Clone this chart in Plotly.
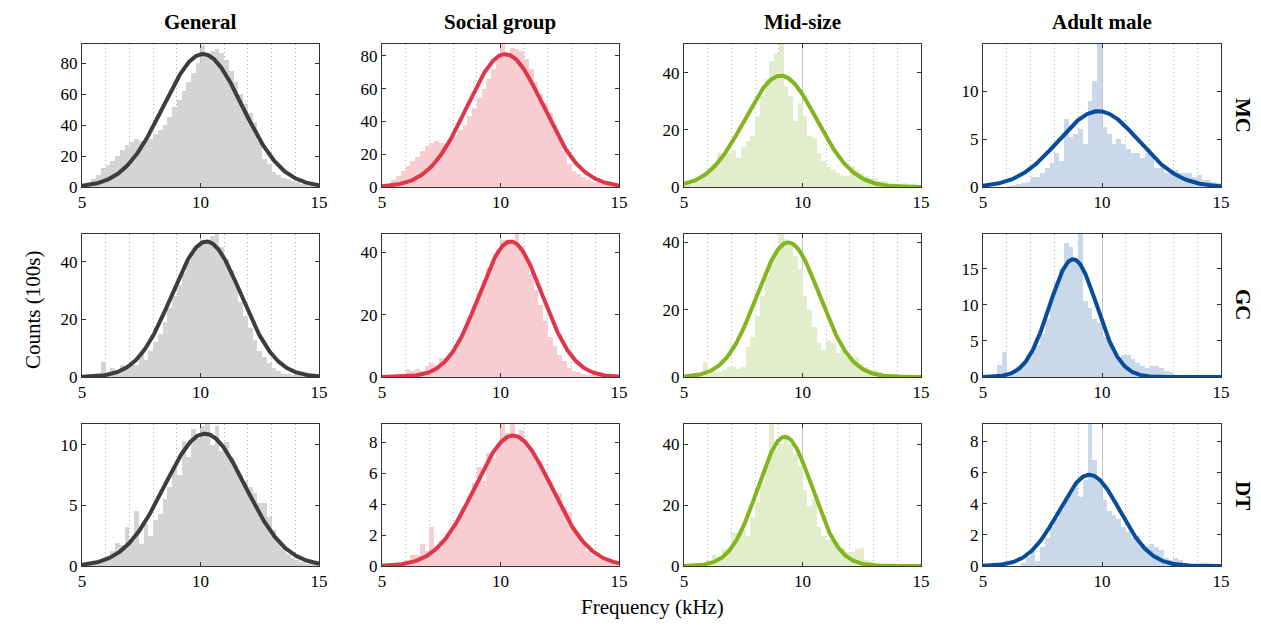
import numpy as np
import plotly.graph_objects as go

W, H = 1261, 626

groups = ["General", "Social group", "Mid-size", "Adult male"]
conditions = ["MC", "GC", "DT"]
bin_left_edges = [round(5.0 + 0.2 * i, 1) for i in range(50)]
bin_width = 0.2

# Histogram counts (100s) per panel; rows = MC, GC, DT
general_mc = [1, 3, 5, 8, 12, 14, 17, 20, 24, 27, 29, 31, 30, 30, 31, 34, 37, 40, 45, 52,
              56, 62, 68, 74, 80, 92, 86, 88, 89, 87, 82, 75, 68, 60, 54, 48, 42, 30, 18, 15,
              10, 8, 6, 5, 4, 3, 2, 2, 1, 1]
social_mc = [1, 2, 4, 7, 10, 13, 16, 18, 22, 25, 27, 28, 27, 26, 28, 32, 35, 38, 43, 48,
             54, 60, 66, 72, 78, 87, 80, 85, 84, 83, 78, 72, 64, 57, 51, 45, 38, 30, 22, 14,
             10, 8, 6, 4, 3, 3, 2, 1, 1, 1]
mid_mc = [0.5, 1, 2, 3, 4, 6, 8.5, 12, 12, 12, 13, 10, 14, 16, 18, 25, 32, 38, 44, 47,
          50, 35, 32, 23, 29.5, 25, 18, 17, 12, 9, 7, 6, 5, 4, 4, 7.5, 6, 5, 4, 3,
          3, 2, 2, 1.5, 1, 1, 1.5, 1, 1, 0.5]
adult_mc = [0, 0, 0, 0, 0, 0.1, 0.2, 0.3, 0.4, 0.5, 1, 1, 1.5, 2, 2.5, 3.5, 2.7, 7.1, 5.2, 5.5,
            6.0, 4.5, 9, 11, 14.9, 6.3, 5.5, 4.5, 5, 4.5, 4, 3.5, 3.5, 3, 3.5, 3.5, 2, 2, 1.5, 1.5,
            1.8, 1.5, 1.5, 1.5, 1, 1.3, 0.7, 0.7, 0.5, 0.4]
general_gc = [0, 0, 0.5, 1, 5.2, 1, 3, 2, 4, 3, 5, 4, 8, 6, 9, 12, 15, 19, 24, 28,
              32, 36, 40, 43, 45, 47, 46, 49, 49.6, 45, 41, 37, 32, 26, 21, 17, 13, 9, 7, 5,
              3, 2, 1, 1, 0.5, 0.5, 0.3, 0.2, 0.1, 0]
social_gc = [0, 0, 0, 0, 0.5, 2.5, 2, 2.5, 2, 3.5, 4.5, 4, 6, 5.5, 7, 9, 12, 15, 19, 23,
             27, 31, 35, 38, 41, 44, 44, 43, 45.9, 42, 38, 33, 28, 23, 18, 13, 10, 7, 5, 3,
             2, 1.5, 1, 0.7, 0.5, 0.3, 0.2, 0.1, 0, 0]
mid_gc = [0, 0, 0.3, 1, 4.5, 1, 1.5, 1.5, 2, 3, 3, 2.5, 3, 9, 12, 18, 24, 30, 35, 37,
          42.5, 41, 40, 36, 32, 24, 20, 15, 10, 8, 11, 10, 7, 8, 6, 5, 6, 4, 3, 2,
          2, 1.5, 0.5, 0.3, 0, 0, 0, 0, 0, 0]
adult_gc = [0, 0, 0, 1.6, 3.4, 0.5, 1, 1.5, 2, 3, 3.5, 4.5, 6, 8, 11, 13, 15, 18.6, 18, 16,
            19.8, 10.5, 9.5, 8, 7.5, 5.5, 5, 3.5, 2.5, 3, 3, 2.5, 2, 1.5, 1.2, 1.5, 1.5, 1.2, 0.8, 0.7,
            0.3, 0.2, 0, 0, 0, 0, 0, 0, 0, 0]
general_dt = [0.1, 0.1, 0.2, 0.3, 0.5, 0.8, 1.2, 1.9, 1.7, 3.2, 2.2, 4.5, 1.8, 3.5, 2.5, 3.8, 4.3, 5.5, 6.5, 8.2,
              7.5, 10.3, 9, 11.3, 10.5, 11.5, 11.7, 10, 11.5, 9.5, 10.2, 9, 8, 7.5, 7, 6.5, 6, 5.2, 5.2, 4,
              3, 2.2, 1.5, 1, 0.7, 0.5, 0.3, 0.2, 0.1, 0.1]
social_dt = [0, 0, 0, 0, 0.1, 0.3, 0.7, 0.7, 1.4, 1.0, 2.5, 1.3, 1.6, 1.8, 2.2, 2.8, 3.3, 3.8, 4.5, 5.4,
             6.4, 5.5, 7.3, 7, 7.8, 9.2, 8.6, 9.2, 8.5, 8.8, 8, 7.5, 7, 6.8, 6, 5.5, 4.8, 4.7, 3.8, 3.5,
             2.5, 2, 1.5, 1, 0.7, 0.5, 0.4, 0.3, 0.2, 0.2]
mid_dt = [0, 0, 0.3, 0.5, 1, 1.5, 3.5, 3, 5.5, 6, 11, 11, 12, 10, 16, 21, 28, 33, 46.7, 38,
          40, 42, 40, 36.8, 33, 25, 19.8, 22, 12.8, 10, 8.5, 8.4, 8, 6, 4.6, 4.5, 5.7, 6, 2, 1.5,
          1, 0.8, 0.5, 0.3, 0.2, 0, 0, 0, 0, 0]
adult_dt = [0, 0, 0, 0, 0, 0, 0, 0, 0.2, 0.6, 0.9, 0.3, 1.2, 1.8, 2.5, 3, 3.6, 4.2, 4.8, 5.3,
            4.4, 5.5, 9.1, 6.8, 5.5, 4.2, 3.5, 3.3, 3.0, 2.5, 2.2, 1.8, 1.9, 1.4, 1.3, 1.4, 1.2, 1.0, 0.5, 0.4,
            0.5, 0.4, 0.2, 0.1, 0, 0, 0, 0, 0, 0]

counts = [
    [general_mc, social_mc, mid_mc, adult_mc],
    [general_gc, social_gc, mid_gc, adult_gc],
    [general_dt, social_dt, mid_dt, adult_dt],
]

# Gaussian fit parameters (peak, mean, sigma)
fit_peak = [[86, 81, 39, 7.9], [47, 43.5, 40, 16.3], [10.9, 8.45, 42.5, 5.85]]
fit_mu = [[10.1, 10.2, 9.08, 9.85], [10.25, 10.43, 9.4, 8.79], [10.18, 10.53, 9.26, 9.47]]
fit_sigma = [[1.67, 1.61, 1.52, 1.7], [1.46, 1.33, 1.32, 0.99], [1.7, 1.61, 1.14, 1.28]]

y_top = [[92.5, 87.2, 50.1, 14.9], [49.6, 45.9, 42.5, 19.8], [11.7, 9.2, 46.7, 9.1]]
y_dtick = [[20, 20, 20, 5], [20, 20, 20, 5], [5, 2, 20, 2]]

bar_colors = ["#d4d4d4", "#f7cdd2", "#e2edcc", "#c9d9ea"]
line_colors = ["#3d3d3d", "#e0364a", "#82b51e", "#084d9a"]

col_px = [(82, 319), (382, 619), (684, 921), (983, 1221)]
row_px = [(44, 187), (234, 377), (424, 566)]

FONT = "Liberation Serif, Times New Roman, serif"

fig = go.Figure()
layout = {}
xfit = np.linspace(5, 15, 301)
for r in range(3):
    for c in range(4):
        k = r * 4 + c + 1
        xa = "x" if k == 1 else f"x{k}"
        ya = "y" if k == 1 else f"y{k}"
        centers = [e + bin_width / 2 for e in bin_left_edges]
        fig.add_trace(go.Bar(x=centers, y=counts[r][c], width=bin_width,
                             marker=dict(color=bar_colors[c], line=dict(width=0)),
                             xaxis=xa, yaxis=ya, showlegend=False, hoverinfo="skip"))
        yfit = fit_peak[r][c] * np.exp(-(xfit - fit_mu[r][c]) ** 2 / (2 * fit_sigma[r][c] ** 2))
        fig.add_trace(go.Scatter(x=xfit, y=yfit, mode="lines",
                                 line=dict(color=line_colors[c], width=4),
                                 xaxis=xa, yaxis=ya, showlegend=False))
        x0, x1 = col_px[c]
        y0, y1 = row_px[r]
        axcommon = dict(showline=True, linecolor="#333333", linewidth=1, mirror="ticks",
                        ticks="inside", ticklen=4, tickcolor="#333333", zeroline=False,
                        automargin=False,
                        tickfont=dict(family=FONT, size=17, color="black"))
        layout["xaxis" if k == 1 else f"xaxis{k}"] = dict(
            domain=[x0 / W, x1 / W], anchor=ya, range=[5, 15],
            tickvals=[5, 10, 15], showgrid=True, gridcolor="#c4c4c4", gridwidth=1,
            minor=dict(dtick=1, tick0=5, showgrid=True, gridcolor="#b0b0b0",
                       griddash="1px,3px", gridwidth=1, ticks=""),
            **axcommon)
        layout["yaxis" if k == 1 else f"yaxis{k}"] = dict(
            domain=[1 - y1 / H, 1 - y0 / H], anchor=xa, range=[0, y_top[r][c]],
            tick0=0, dtick=y_dtick[r][c], showgrid=False, **axcommon)

annotations = []
col_titles_x = [200, 500, 802, 1102]
for c, g in enumerate(groups):
    annotations.append(dict(text=f"<b>{g}</b>", x=col_titles_x[c] / W, y=1 - 22 / H,
                            xref="paper", yref="paper", showarrow=False,
                            xanchor="center", yanchor="middle",
                            font=dict(family=FONT, size=21, color="black")))
row_label_y = [115, 305, 495]
for r, cnd in enumerate(conditions):
    annotations.append(dict(text=f"<b>{cnd}</b>", x=1243 / W, y=1 - row_label_y[r] / H,
                            xref="paper", yref="paper", showarrow=False, textangle=90,
                            xanchor="center", yanchor="middle",
                            font=dict(family=FONT, size=21, color="black")))
annotations.append(dict(text="Counts (100s)", x=33 / W, y=1 - 310 / H, xref="paper", yref="paper",
                        showarrow=False, textangle=-90, xanchor="center", yanchor="middle",
                        font=dict(family=FONT, size=21, color="black")))
annotations.append(dict(text="Frequency (kHz)", x=652 / W, y=1 - 607 / H, xref="paper", yref="paper",
                        showarrow=False, xanchor="center", yanchor="middle",
                        font=dict(family=FONT, size=21, color="black")))

fig.update_layout(width=W, height=H, margin=dict(l=0, r=0, t=0, b=0, pad=0),
                  paper_bgcolor="white", plot_bgcolor="white", bargap=0,
                  hovermode=False, annotations=annotations, **layout)

fig.write_html("out.html", config={"displayModeBar": False},
               post_script="document.body.style.margin='0';document.body.style.padding='0';")
